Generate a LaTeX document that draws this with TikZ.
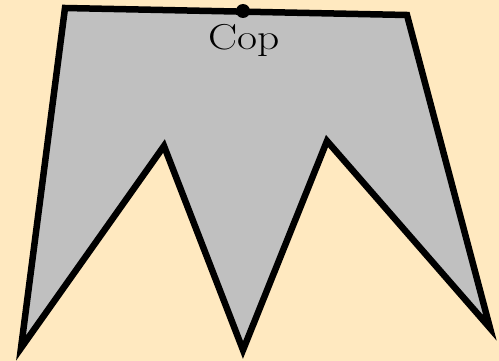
\documentclass[tikz,border=0pt]{standalone}
\usepackage{fontspec}
\usepackage{graphicx}
\definecolor{bg}{RGB}{255,233,192}
\definecolor{fillgray}{RGB}{192,192,192}
\newcommand{\bigfont}{\fontsize{36pt}{43pt}\selectfont}
\begin{document}
\begin{tikzpicture}[x=1pt,y=-1pt,
  polystyle/.style={draw=black,fill=fillgray,line width=6.5pt,line join=miter,miter limit=20},
  dotstyle/.style={circle,fill=black,inner sep=0pt,minimum size=14pt},
  lbl/.style={anchor=base,inner sep=0pt}]
\fill[bg] (0,0) rectangle (499,361);
\useasboundingbox (0,0) rectangle (499,361);
\coordinate (A) at (65,8);
\coordinate (B) at (407,15);
\coordinate (C) at (490,328);
\coordinate (D) at (327,141);
\coordinate (E) at (243,350);
\coordinate (F) at (164,146);
\coordinate (G) at (21,348);
\draw[polystyle] (A) -- (B) -- (C) -- (D) -- (E) -- (F) -- (G) -- cycle;
\node[dotstyle] (cop) at (243,11) {};
\node[lbl] (coplabel) at (244,50) {\scalebox{1.21}[1]{\bigfont Cop}};
\end{tikzpicture}
\end{document}
